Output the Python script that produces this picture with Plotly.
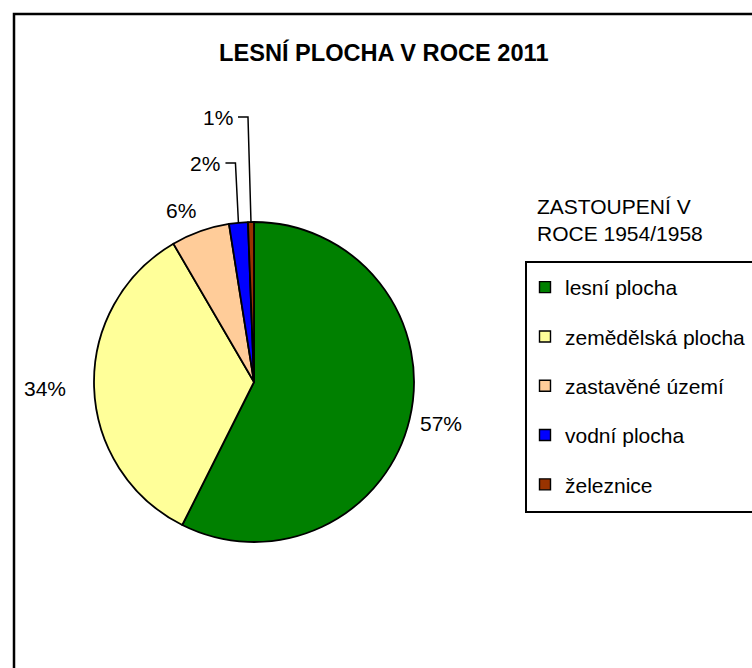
"""Pie chart: forest area share (LESNÍ PLOCHA V ROCE 2011)."""

import math

import plotly.graph_objects as go

# ═══════════════════════════════════════════════════════
# Data
# ═══════════════════════════════════════════════════════

CATEGORIES = [
    "lesní plocha",
    "zemědělská plocha",
    "zastavěné území",
    "vodní plocha",
    "železnice",
]
SHARES = [57.4, 34.2, 5.9, 1.9, 0.6]

TITLE = "LESNÍ PLOCHA V ROCE 2011"
LEGEND_TITLE = "ZASTOUPENÍ V<br>ROCE 1954/1958"

# ═══════════════════════════════════════════════════════
# Style
# ═══════════════════════════════════════════════════════

COLORS = ["#008000", "#FFFF99", "#FFCC99", "#0000FF", "#993300"]
FONT = "Liberation Sans, Arial, sans-serif"

W, H = 752, 668
CX, CY, R = 254, 382, 160          # pie centre / radius in px

# outside labels for big slices: gap from the rim
LABEL_GAP = [9, 26, 8]
# small slices get elbow leaders: rise above the rim
LEADER_RISE = [None, None, None, 59, 105]


def px_x(x):
    return x / W


def px_y(y):
    return 1 - y / H


fig = go.Figure()

fig.add_trace(
    go.Pie(
        labels=CATEGORIES,
        values=SHARES,
        sort=False,
        direction="clockwise",
        rotation=0,
        textinfo="none",
        hoverinfo="label+percent",
        showlegend=False,
        marker=dict(colors=COLORS, line=dict(color="black", width=1.8)),
        domain=dict(
            x=[px_x(CX - R), px_x(CX + R)],
            y=[px_y(CY + R), px_y(CY - R)],
        ),
    )
)

# legend entries (separate traces so the rows can be spaced out)
for name, color in zip(CATEGORIES, COLORS):
    fig.add_trace(
        go.Scatter(
            x=[None],
            y=[None],
            mode="markers",
            name=name,
            legendgroup=name,
            marker=dict(symbol="square", size=11, color=color,
                        line=dict(color="black", width=1.4)),
            hoverinfo="skip",
        )
    )

# percentage labels, placed from the slice angles
total = sum(SHARES)
annotations = []
shapes = []
cum = 0.0
for i, v in enumerate(SHARES):
    mid = (cum + v / 2) / total * 2 * math.pi
    cum += v
    ux, uy = math.sin(mid), -math.cos(mid)  # screen direction (y down)
    text = f"{round(v / total * 100)}%"

    if LEADER_RISE[i] is None:
        d = R + LABEL_GAP[i]
        lx, ly = CX + d * ux, CY + d * uy
        xanchor = "left" if ux > 0.25 else "right" if ux < -0.25 else "center"
        yanchor = "top" if uy > 0.5 else "bottom" if uy < -0.5 else "middle"
        if yanchor == "middle":
            ly += 12 * uy
    else:
        sx, sy = CX + R * ux, CY + R * uy
        ly = CY - R - LEADER_RISE[i]
        path = (f"M {px_x(sx)},{px_y(sy)} L {px_x(sx - 3)},{px_y(ly)} "
                f"L {px_x(sx - 13)},{px_y(ly)}")
        shapes.append(dict(type="path", path=path, xref="paper", yref="paper",
                           line=dict(color="black", width=1.5)))
        lx = sx - 16
        xanchor, yanchor = "right", "middle"

    annotations.append(dict(
        text=text, x=px_x(lx), y=px_y(ly), xref="paper", yref="paper",
        xanchor=xanchor, yanchor=yanchor, showarrow=False,
        font=dict(family=FONT, size=21, color="black"),
    ))

annotations.append(dict(
    text=f"<b>{TITLE}</b>", x=px_x(384), y=px_y(52), xref="paper", yref="paper",
    xanchor="center", yanchor="middle", showarrow=False,
    font=dict(family=FONT, size=23.6, color="black"),
))
annotations.append(dict(
    text=LEGEND_TITLE, x=px_x(535), y=px_y(220), xref="paper", yref="paper",
    xanchor="left", yanchor="middle", align="left", showarrow=False,
    font=dict(family=FONT, size=21, color="black"),
))

# chart frame and legend box
shapes.append(dict(type="rect", xref="paper", yref="paper",
                   x0=px_x(14), y0=px_y(14), x1=px_x(W + 20), y1=px_y(H + 20),
                   line=dict(color="black", width=2.5)))
shapes.append(dict(type="rect", xref="paper", yref="paper",
                   x0=px_x(526), y0=px_y(262), x1=px_x(W + 20), y1=px_y(512),
                   line=dict(color="black", width=2)))

fig.update_layout(
    width=W,
    height=H,
    margin=dict(l=0, r=0, t=0, b=0),
    paper_bgcolor="white",
    plot_bgcolor="white",
    font=dict(family=FONT, size=21, color="black"),
    xaxis=dict(visible=False),
    yaxis=dict(visible=False),
    showlegend=True,
    legend=dict(
        x=px_x(525),
        y=px_y(267),
        xanchor="left",
        yanchor="top",
        bgcolor="rgba(0,0,0,0)",
        borderwidth=0,
        tracegroupgap=19,
        font=dict(family=FONT, size=21, color="black"),
    ),
    annotations=annotations,
    shapes=shapes,
)

fig.write_html(
    "out.html",
    config={"displayModeBar": False},
    post_script="document.body.style.margin='0';",
)
